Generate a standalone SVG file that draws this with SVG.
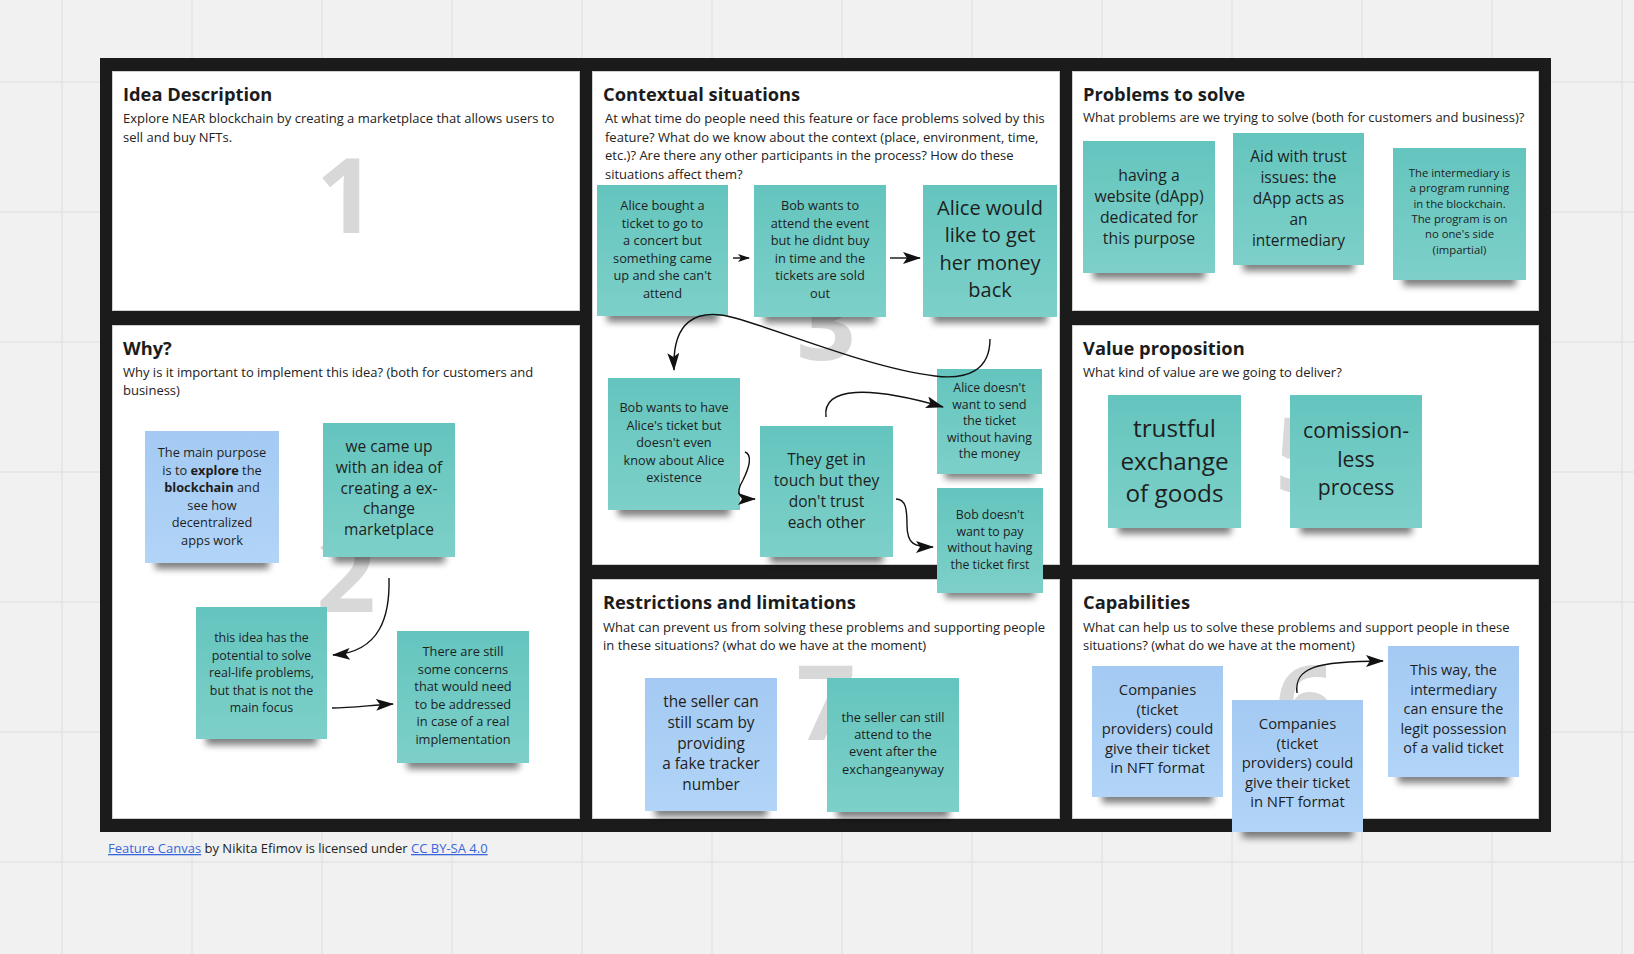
<svg xmlns="http://www.w3.org/2000/svg" width="1634" height="954" viewBox="0 0 1634 954">
<style>
.title{font-family:"Open Sans","Liberation Sans",sans-serif;font-weight:bold;font-size:18.3px;fill:#1c1c1c}
.sub{font-family:"Open Sans","Liberation Sans",sans-serif;font-size:13px;fill:#222}
.num{font-family:"Open Sans","Liberation Sans",sans-serif;font-weight:bold;font-size:104px;fill:#d8d8d8;text-anchor:middle}
.nt{font-family:"Open Sans","Liberation Sans",sans-serif;fill:#1e1e1e;text-anchor:middle}
.panel{fill:#fff;stroke:#cfcfcf;stroke-width:1}
.teal{fill:url(#gT)}
.blue{fill:url(#gB)}
.sh{fill:#000;opacity:0.5;filter:url(#blur)}
.conn{fill:none;stroke:#111;stroke-width:1.4}
.link{fill:#3a66dc;text-decoration:underline}
</style>
<defs>
<linearGradient id="gT" x1="0" y1="0" x2="0" y2="1"><stop offset="0" stop-color="#64c5be"/><stop offset="1" stop-color="#7dd0c9"/></linearGradient>
<linearGradient id="gB" x1="0" y1="0" x2="0" y2="1"><stop offset="0" stop-color="#a4caf3"/><stop offset="1" stop-color="#b1d4f7"/></linearGradient>
<filter id="blur" x="-20%" y="-100%" width="140%" height="300%"><feGaussianBlur stdDeviation="3.5"/></filter>
<marker id="ah" markerWidth="18" markerHeight="12" refX="17" refY="6" orient="auto" markerUnits="userSpaceOnUse"><path d="M0,0 L18,6 L0,12 L4,6 Z" fill="#111"/></marker>
<marker id="ahs" markerWidth="12" markerHeight="8" refX="11" refY="4" orient="auto" markerUnits="userSpaceOnUse"><path d="M0,0 L12,4 L0,8 L3,4 Z" fill="#111"/></marker>
</defs>
<rect width="1634" height="954" fill="#f1f1f1"/>
<path d="M62 0V954M192 0V954M322 0V954M452 0V954M582 0V954M712 0V954M842 0V954M972 0V954M1102 0V954M1232 0V954M1362 0V954M1492 0V954M1622 0V954M0 82H1634M0 212H1634M0 342H1634M0 472H1634M0 602H1634M0 732H1634M0 862H1634" stroke="#e3e3e3" stroke-width="1.5"/>
<rect x="100" y="58" width="1451" height="774" fill="#1b1b1b"/>

<g id="panel-idea">
<rect class="panel" x="112.5" y="71.5" width="467" height="239"/>
<text class="title" x="123" y="101">Idea Description</text>
<text class="sub" x="123" y="123">Explore NEAR blockchain by creating a marketplace that allows users to</text>
<text class="sub" x="123" y="142">sell and buy NFTs.</text>
<text class="num" x="346" y="233">1</text>
</g>
<g id="panel-why">
<rect class="panel" x="112.5" y="325.5" width="467" height="493"/>
<text class="title" x="123" y="355">Why?</text>
<text class="sub" x="123" y="377">Why is it important to implement this idea? (both for customers and</text>
<text class="sub" x="123" y="395">business)</text>
<text class="num" x="346" y="612">2</text>
</g>
<g id="panel-context">
<rect class="panel" x="592.5" y="71.5" width="467" height="493"/>
<text class="title" x="603" y="101">Contextual situations</text>
<text class="sub" x="605" y="123">At what time do people need this feature or face problems solved by this</text>
<text class="sub" x="605" y="141.5">feature? What do we know about the context (place, environment, time,</text>
<text class="sub" x="605" y="160">etc.)? Are there any other participants in the process? How do these</text>
<text class="sub" x="605" y="178.5">situations affect them?</text>
<text class="num" x="826" y="360">3</text>
</g>
<g id="panel-problems">
<rect class="panel" x="1072.5" y="71.5" width="466" height="239"/>
<text class="title" x="1083" y="101">Problems to solve</text>
<text class="sub" x="1083" y="122">What problems are we trying to solve (both for customers and business)?</text>
</g>
<g id="panel-value">
<rect class="panel" x="1072.5" y="325.5" width="466" height="239"/>
<text class="title" x="1083" y="355">Value proposition</text>
<text class="sub" x="1083" y="377">What kind of value are we going to deliver?</text>
<text class="num" x="1305" y="492">5</text>
</g>
<g id="panel-restrictions">
<rect class="panel" x="592.5" y="579.5" width="467" height="239"/>
<text class="title" x="603" y="609">Restrictions and limitations</text>
<text class="sub" x="603" y="632">What can prevent us from solving these problems and supporting people</text>
<text class="sub" x="603" y="650">in these situations? (what do we have at the moment)</text>
<text class="num" x="826" y="740">7</text>
</g>
<g id="panel-capabilities">
<rect class="panel" x="1072.5" y="579.5" width="466" height="239"/>
<text class="title" x="1083" y="609">Capabilities</text>
<text class="sub" x="1083" y="632">What can help us to solve these problems and support people in these</text>
<text class="sub" x="1083" y="650">situations? (what do we have at the moment)</text>
<text class="num" x="1305" y="740">6</text>
</g>

<g id="note-a"><rect class="sh" x="607" y="308" width="111" height="14"/><rect class="teal" x="597" y="185" width="131" height="131"/>
<text class="nt" font-size="12.8" x="662.5" y="210"><tspan x="662.5">Alice bought a</tspan><tspan x="662.5" dy="17.5">ticket to go to</tspan><tspan x="662.5" dy="17.5">a concert but</tspan><tspan x="662.5" dy="17.5">something came</tspan><tspan x="662.5" dy="17.5">up and she can't</tspan><tspan x="662.5" dy="17.5">attend</tspan></text></g>
<g id="note-b"><rect class="sh" x="764" y="309" width="112" height="14"/><rect class="teal" x="754" y="185" width="132" height="132"/>
<text class="nt" font-size="12.8" x="820" y="210"><tspan x="820">Bob wants to</tspan><tspan x="820" dy="17.5">attend the event</tspan><tspan x="820" dy="17.5">but he didnt buy</tspan><tspan x="820" dy="17.5">in time and the</tspan><tspan x="820" dy="17.5">tickets are sold</tspan><tspan x="820" dy="17.5">out</tspan></text></g>
<g id="note-c"><rect class="sh" x="933" y="309" width="114" height="14"/><rect class="teal" x="923" y="185" width="134" height="132"/>
<text class="nt" font-size="20" x="990" y="215"><tspan x="990">Alice would</tspan><tspan x="990" dy="27.3">like to get</tspan><tspan x="990" dy="27.3">her money</tspan><tspan x="990" dy="27.3">back</tspan></text></g>
<g id="note-d"><rect class="sh" x="618" y="502" width="112" height="14"/><rect class="teal" x="608" y="378" width="132" height="132"/>
<text class="nt" font-size="12.7" x="674" y="412"><tspan x="674">Bob wants to have</tspan><tspan x="674" dy="17.5">Alice's ticket but</tspan><tspan x="674" dy="17.5">doesn't even</tspan><tspan x="674" dy="17.5">know about Alice</tspan><tspan x="674" dy="17.5">existence</tspan></text></g>
<g id="note-e"><rect class="sh" x="770" y="549" width="113" height="14"/><rect class="teal" x="760" y="426" width="133" height="131"/>
<text class="nt" font-size="15.5" x="826.5" y="465"><tspan x="826.5">They get in</tspan><tspan x="826.5" dy="21">touch but they</tspan><tspan x="826.5" dy="21">don't trust</tspan><tspan x="826.5" dy="21">each other</tspan></text></g>
<g id="note-f"><rect class="sh" x="945" y="467" width="89" height="12"/><rect class="teal" x="937" y="369" width="105" height="105"/>
<text class="nt" font-size="12.3" x="989.5" y="392"><tspan x="989.5">Alice doesn't</tspan><tspan x="989.5" dy="16.6">want to send</tspan><tspan x="989.5" dy="16.6">the ticket</tspan><tspan x="989.5" dy="16.6">without having</tspan><tspan x="989.5" dy="16.6">the money</tspan></text></g>
<g id="note-g"><rect class="sh" x="945" y="586" width="90" height="12"/><rect class="teal" x="937" y="488" width="106" height="105"/>
<text class="nt" font-size="12.3" x="990" y="519"><tspan x="990">Bob doesn't</tspan><tspan x="990" dy="16.6">want to pay</tspan><tspan x="990" dy="16.6">without having</tspan><tspan x="990" dy="16.6">the ticket first</tspan></text></g>

<g id="note-h"><rect class="sh" x="155" y="555" width="114" height="14"/><rect class="blue" x="145" y="431" width="134" height="132"/>
<text class="nt" font-size="12.8" x="212" y="457"><tspan x="212">The main purpose</tspan><tspan x="212" dy="17.5">is to <tspan font-weight="bold">explore</tspan> the</tspan><tspan x="212" dy="17.5"><tspan font-weight="bold">blockchain</tspan> and</tspan><tspan x="212" dy="17.5">see how</tspan><tspan x="212" dy="17.5">decentralized</tspan><tspan x="212" dy="17.5">apps work</tspan></text></g>
<g id="note-i"><rect class="sh" x="333" y="549" width="112" height="14"/><rect class="teal" x="323" y="423" width="132" height="134"/>
<text class="nt" font-size="15.5" x="389" y="452"><tspan x="389">we came up</tspan><tspan x="389" dy="20.8">with an idea of</tspan><tspan x="389" dy="20.8">creating a ex-</tspan><tspan x="389" dy="20.8">change</tspan><tspan x="389" dy="20.8">marketplace</tspan></text></g>
<g id="note-j"><rect class="sh" x="206" y="731" width="111" height="14"/><rect class="teal" x="196" y="607" width="131" height="132"/>
<text class="nt" font-size="12.4" x="261.5" y="642"><tspan x="261.5">this idea has the</tspan><tspan x="261.5" dy="17.5">potential to solve</tspan><tspan x="261.5" dy="17.5">real-life problems,</tspan><tspan x="261.5" dy="17.5">but that is not the</tspan><tspan x="261.5" dy="17.5">main focus</tspan></text></g>
<g id="note-k"><rect class="sh" x="407" y="755" width="112" height="14"/><rect class="teal" x="397" y="631" width="132" height="132"/>
<text class="nt" font-size="12.8" x="463" y="656"><tspan x="463">There are still</tspan><tspan x="463" dy="17.5">some concerns</tspan><tspan x="463" dy="17.5">that would need</tspan><tspan x="463" dy="17.5">to be addressed</tspan><tspan x="463" dy="17.5">in case of a real</tspan><tspan x="463" dy="17.5">implementation</tspan></text></g>

<g id="note-l"><rect class="sh" x="1093" y="265" width="112" height="14"/><rect class="teal" x="1083" y="141" width="132" height="132"/>
<text class="nt" font-size="15.8" x="1149" y="181"><tspan x="1149">having a</tspan><tspan x="1149" dy="21">website (dApp)</tspan><tspan x="1149" dy="21">dedicated for</tspan><tspan x="1149" dy="21">this purpose</tspan></text></g>
<g id="note-m"><rect class="sh" x="1243" y="257" width="111" height="14"/><rect class="teal" x="1233" y="133" width="131" height="132"/>
<text class="nt" font-size="15.5" x="1298.5" y="162"><tspan x="1298.5">Aid with trust</tspan><tspan x="1298.5" dy="21">issues: the</tspan><tspan x="1298.5" dy="21">dApp acts as</tspan><tspan x="1298.5" dy="21">an</tspan><tspan x="1298.5" dy="21">intermediary</tspan></text></g>
<g id="note-n"><rect class="sh" x="1403" y="272" width="113" height="14"/><rect class="teal" x="1393" y="148" width="133" height="132"/>
<text class="nt" font-size="11.3" x="1459.5" y="177"><tspan x="1459.5">The intermediary is</tspan><tspan x="1459.5" dy="15.3">a program running</tspan><tspan x="1459.5" dy="15.3">in the blockchain.</tspan><tspan x="1459.5" dy="15.3">The program is on</tspan><tspan x="1459.5" dy="15.3">no one's side</tspan><tspan x="1459.5" dy="15.3">(impartial)</tspan></text></g>

<g id="note-o"><rect class="sh" x="1118" y="520" width="113" height="14"/><rect class="teal" x="1108" y="395" width="133" height="133"/>
<text class="nt" font-size="24.3" x="1174.5" y="437"><tspan x="1174.5">trustful</tspan><tspan x="1174.5" dy="32.5">exchange</tspan><tspan x="1174.5" dy="32.5">of goods</tspan></text></g>
<g id="note-p"><rect class="sh" x="1300" y="520" width="112" height="14"/><rect class="teal" x="1290" y="395" width="132" height="133"/>
<text class="nt" font-size="21.2" x="1356" y="438"><tspan x="1356">comission-</tspan><tspan x="1356" dy="28.5">less</tspan><tspan x="1356" dy="28.5">process</tspan></text></g>

<g id="note-q"><rect class="sh" x="655" y="803" width="112" height="14"/><rect class="blue" x="645" y="678" width="132" height="133"/>
<text class="nt" font-size="15.4" x="711" y="707"><tspan x="711">the seller can</tspan><tspan x="711" dy="20.8">still scam by</tspan><tspan x="711" dy="20.8">providing</tspan><tspan x="711" dy="20.8">a fake tracker</tspan><tspan x="711" dy="20.8">number</tspan></text></g>
<g id="note-r"><rect class="sh" x="837" y="804" width="112" height="14"/><rect class="teal" x="827" y="678" width="132" height="134"/>
<text class="nt" font-size="12.8" x="893" y="722"><tspan x="893">the seller can still</tspan><tspan x="893" dy="17.2">attend to the</tspan><tspan x="893" dy="17.2">event after the</tspan><tspan x="893" dy="17.2">exchangeanyway</tspan></text></g>

<g id="note-s"><rect class="sh" x="1102" y="789" width="111" height="14"/><rect class="blue" x="1092" y="666" width="131" height="131"/>
<text class="nt" font-size="14.8" x="1157.5" y="695"><tspan x="1157.5">Companies</tspan><tspan x="1157.5" dy="19.6">(ticket</tspan><tspan x="1157.5" dy="19.6">providers) could</tspan><tspan x="1157.5" dy="19.6">give their ticket</tspan><tspan x="1157.5" dy="19.6">in NFT format</tspan></text></g>
<g id="note-t"><rect class="sh" x="1242" y="824" width="111" height="14"/><rect class="blue" x="1232" y="700" width="131" height="132"/>
<text class="nt" font-size="14.8" x="1297.5" y="729"><tspan x="1297.5">Companies</tspan><tspan x="1297.5" dy="19.6">(ticket</tspan><tspan x="1297.5" dy="19.6">providers) could</tspan><tspan x="1297.5" dy="19.6">give their ticket</tspan><tspan x="1297.5" dy="19.6">in NFT format</tspan></text></g>
<g id="note-u"><rect class="sh" x="1398" y="769" width="111" height="14"/><rect class="blue" x="1388" y="646" width="131" height="131"/>
<text class="nt" font-size="14.4" x="1453.5" y="675"><tspan x="1453.5">This way, the</tspan><tspan x="1453.5" dy="19.6">intermediary</tspan><tspan x="1453.5" dy="19.6">can ensure the</tspan><tspan x="1453.5" dy="19.6">legit possession</tspan><tspan x="1453.5" dy="19.6">of a valid ticket</tspan></text></g>

<g id="connectors">
<path class="conn" marker-end="url(#ahs)" d="M733 258 L749 258"/>
<path class="conn" marker-end="url(#ah)" d="M890 258 L920 258"/>
<path class="conn" marker-end="url(#ah)" d="M990 339 C990 370 968 380 935 376 C870 368 785 332 735 318 C695 307 672 322 674 370"/>
<path class="conn" marker-end="url(#ah)" d="M826 417 C822 386 870 386 943 407"/>
<path class="conn" marker-end="url(#ah)" d="M745 452 C753 455 749 468 743 480 C735 494 738 499 755 499"/>
<path class="conn" marker-end="url(#ah)" d="M896 499 C906 499 907 510 907 525 C907 544 914 547 933 547"/>
<path class="conn" marker-end="url(#ah)" d="M389 578 C390 615 381 652 333 655"/>
<path class="conn" marker-end="url(#ah)" d="M332 708 C352 708 372 705 393 704"/>
<path class="conn" marker-end="url(#ah)" d="M1297 693 C1294 668 1315 661 1383 661"/>
</g>

<text class="sub" x="108" y="853" font-size="13.5"><tspan class="link">Feature Canvas</tspan> by Nikita Efimov is licensed under <tspan class="link">CC BY-SA 4.0</tspan></text>
</svg>
